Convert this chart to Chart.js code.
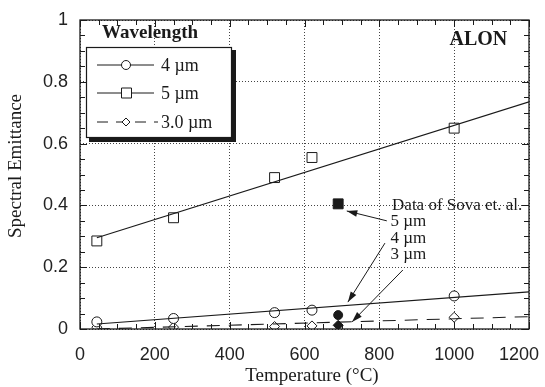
<!DOCTYPE html>
<html>
<head>
<meta charset="utf-8">
<script src="https://cdn.jsdelivr.net/npm/chart.js@4"></script>
<style>
  html, body { margin: 0; padding: 0; background: #fff; }
  #wrap { width: 545px; height: 387px; }
</style>
</head>
<body>
<div id="wrap"><canvas id="emChart" width="545" height="387"></canvas></div>
<script>
// measured points (temperature in C, spectral emittance)
const temps = [45, 250, 520, 620, 1000];
const em5 = [0.285, 0.36, 0.49, 0.555, 0.65];
const em4 = [0.023, 0.034, 0.053, 0.061, 0.107];
const em3 = [0.006, 0.006, 0.008, 0.01, 0.038];

// fitted lines
const fitT = [45, 1200];
const fit5 = [0.295, 0.735];
const fit4 = [0.016, 0.12];
const fit3 = [0.0, 0.04];

// Sova et al. data
const sovaT = 690;
const sova5 = 0.405;
const sova4 = 0.045;
const sova3 = 0.012;

const xTicks = [0, 200, 400, 600, 800, 1000, 1200];
const yTicks = [0, 0.2, 0.4, 0.6, 0.8, 1];

const serif = "'Liberation Serif', 'Times New Roman', serif";
const sans = "'Liberation Sans', Arial, sans-serif";
const ink = "#1a1a1a";

function pts(xs, ys) {
  return xs.map((x, i) => ({ x: x, y: ys[i] }));
}

const decor = {
  id: "decor",
  afterDatasetsDraw(chart) {
    const ctx = chart.ctx;
    const a = chart.chartArea;
    const xs = chart.scales.x;
    const ys = chart.scales.y;
    ctx.save();

    // frame
    ctx.strokeStyle = ink;
    ctx.lineWidth = 1.3;
    ctx.setLineDash([]);
    ctx.strokeRect(a.left, a.top, a.right - a.left, a.bottom - a.top);

    // minor ticks on all sides
    ctx.lineWidth = 1;
    ctx.beginPath();
    for (let t = 0; t <= 1200; t += 50) {
      const px = Math.round(xs.getPixelForValue(t)) + 0.5;
      const len = t % 200 === 0 ? 7 : 5;
      ctx.moveTo(px, a.bottom); ctx.lineTo(px, a.bottom - len);
      ctx.moveTo(px, a.top); ctx.lineTo(px, a.top + len);
    }
    for (let k = 0; k <= 20; k++) {
      const py = Math.round(ys.getPixelForValue(k * 0.05)) + 0.5;
      const len = k % 4 === 0 ? 7 : 5;
      ctx.moveTo(a.left, py); ctx.lineTo(a.left + len, py);
      ctx.moveTo(a.right, py); ctx.lineTo(a.right - len, py);
    }
    ctx.stroke();

    // axis titles
    ctx.fillStyle = ink;
    ctx.textBaseline = "middle";
    ctx.textAlign = "center";
    ctx.font = "19px " + serif;
    ctx.fillText("Temperature (\u00b0C)", 312, 376);
    ctx.save();
    ctx.translate(16, 166);
    ctx.rotate(-Math.PI / 2);
    ctx.fillText("Spectral Emittance", 0, 0);
    ctx.restore();

    // legend title and box
    ctx.font = "bold 19px " + serif;
    ctx.textAlign = "left";
    ctx.fillText("Wavelength", 102, 33);

    ctx.fillStyle = ink;
    ctx.fillRect(89, 50, 147, 92);
    ctx.fillStyle = "#fff";
    ctx.fillRect(86, 47, 146, 91);
    ctx.strokeStyle = ink;
    ctx.lineWidth = 1.2;
    ctx.strokeRect(86.5, 47.5, 145, 90);

    const rows = [
      { y: 65, label: "4 \u00b5m", marker: "circle", dash: [], end: 154 },
      { y: 93, label: "5 \u00b5m", marker: "square", dash: [], end: 154 },
      { y: 122, label: "3.0 \u00b5m", marker: "diamond", dash: [11, 8], end: 158 }
    ];
    rows.forEach(r => {
      ctx.strokeStyle = ink;
      ctx.lineWidth = 1;
      ctx.setLineDash(r.dash);
      ctx.beginPath();
      ctx.moveTo(97, r.y); ctx.lineTo(r.end, r.y);
      ctx.stroke();
      ctx.setLineDash([]);
      ctx.fillStyle = "#fff";
      ctx.beginPath();
      if (r.marker === "circle") {
        ctx.arc(126, r.y, 4.5, 0, Math.PI * 2);
      } else if (r.marker === "square") {
        ctx.rect(121.5, r.y - 5, 10, 10);
      } else {
        ctx.moveTo(126, r.y - 4); ctx.lineTo(130, r.y); ctx.lineTo(126, r.y + 4); ctx.lineTo(122, r.y);
        ctx.closePath();
      }
      ctx.fill();
      ctx.stroke();
      ctx.fillStyle = ink;
      ctx.font = "18px " + serif;
      ctx.fillText(r.label, 161, r.y + 1);
    });

    // material label
    ctx.font = "bold 20px " + serif;
    ctx.textAlign = "right";
    ctx.fillText("ALON", xs.getPixelForValue(1142), ys.getPixelForValue(0.935));

    // Sova et al. annotation
    ctx.font = "17px " + serif;
    ctx.textAlign = "left";
    ctx.fillText("Data of Sova et. al.", xs.getPixelForValue(834), ys.getPixelForValue(0.401));
    ctx.fillText("5 \u00b5m", xs.getPixelForValue(830), ys.getPixelForValue(0.347));
    ctx.fillText("4 \u00b5m", xs.getPixelForValue(830), ys.getPixelForValue(0.294));
    ctx.fillText("3 \u00b5m", xs.getPixelForValue(830), ys.getPixelForValue(0.242));

    const arrows = [
      [820, 0.35, 713, 0.382],
      [815, 0.278, 716, 0.087],
      [863, 0.191, 727, 0.023]
    ];
    arrows.forEach(ar => {
      const x1 = xs.getPixelForValue(ar[0]), y1 = ys.getPixelForValue(ar[1]);
      const x2 = xs.getPixelForValue(ar[2]), y2 = ys.getPixelForValue(ar[3]);
      const ang = Math.atan2(y2 - y1, x2 - x1);
      ctx.strokeStyle = ink;
      ctx.lineWidth = 1;
      ctx.beginPath();
      ctx.moveTo(x1, y1); ctx.lineTo(x2, y2);
      ctx.stroke();
      ctx.fillStyle = ink;
      ctx.beginPath();
      ctx.moveTo(x2, y2);
      ctx.lineTo(x2 - 11 * Math.cos(ang - 0.3), y2 - 11 * Math.sin(ang - 0.3));
      ctx.lineTo(x2 - 11 * Math.cos(ang + 0.3), y2 - 11 * Math.sin(ang + 0.3));
      ctx.closePath();
      ctx.fill();
    });

    ctx.restore();
  }
};

const lineDs = (data, dash) => ({
  data: data,
  showLine: true,
  borderColor: ink,
  borderWidth: 1.1,
  borderDash: dash,
  pointRadius: 0,
  fill: false
});

const markDs = (data, style, r, filled) => ({
  data: data,
  showLine: false,
  pointStyle: style,
  pointRadius: r,
  pointBorderColor: ink,
  pointBackgroundColor: filled ? ink : "#fff",
  pointBorderWidth: 1
});

const ctx = document.getElementById("emChart").getContext("2d");
const emChart = new Chart(ctx, {
  type: "scatter",
  data: {
    datasets: [
      lineDs(pts(fitT, fit5), []),
      lineDs(pts(fitT, fit4), []),
      lineDs(pts(fitT, fit3), [13, 9]),
      markDs(pts(temps, em5), "rect", 7, false),
      markDs(pts(temps, em4), "circle", 5, false),
      markDs(pts(temps, em3), "rectRot", 5, false),
      markDs([{ x: sovaT, y: sova5 }], "rect", 7, true),
      markDs([{ x: sovaT, y: sova4 }], "circle", 4.5, true),
      markDs([{ x: sovaT, y: sova3 }], "rectRot", 5, true)
    ]
  },
  plugins: [decor],
  options: {
    responsive: false,
    animation: false,
    layout: { padding: { left: 0, top: 20, right: 16, bottom: 0 } },
    plugins: { legend: { display: false }, tooltip: { enabled: false } },
    scales: {
      x: {
        type: "linear",
        min: 0,
        max: 1200,
        afterBuildTicks: s => { s.ticks = xTicks.map(v => ({ value: v })); },
        afterFit: s => { s.height = 58; s.paddingRight = 0; s.paddingLeft = 0; },
        grid: { color: "#444", lineWidth: 1, drawTicks: false },
        border: { display: false, dash: [1, 2] },
        // last label sits a little left of its tick in the original
        ticks: { color: "#222", font: { family: sans, size: 18 }, padding: 15, maxRotation: 0, callback: v => v === 1200 ? "1200    " : String(v) },
        title: { display: false }
      },
      y: {
        type: "linear",
        min: 0,
        max: 1,
        afterBuildTicks: s => { s.ticks = yTicks.map(v => ({ value: v })); },
        afterFit: s => { s.width = 80; s.paddingTop = 0; s.paddingBottom = 0; },
        grid: { color: "#444", lineWidth: 1, drawTicks: false },
        border: { display: false, dash: [1, 2] },
        ticks: { color: "#222", font: { family: sans, size: 18 }, padding: 12, callback: v => String(v) },
        title: { display: false }
      }
    }
  }
});
</script>
</body>
</html>
